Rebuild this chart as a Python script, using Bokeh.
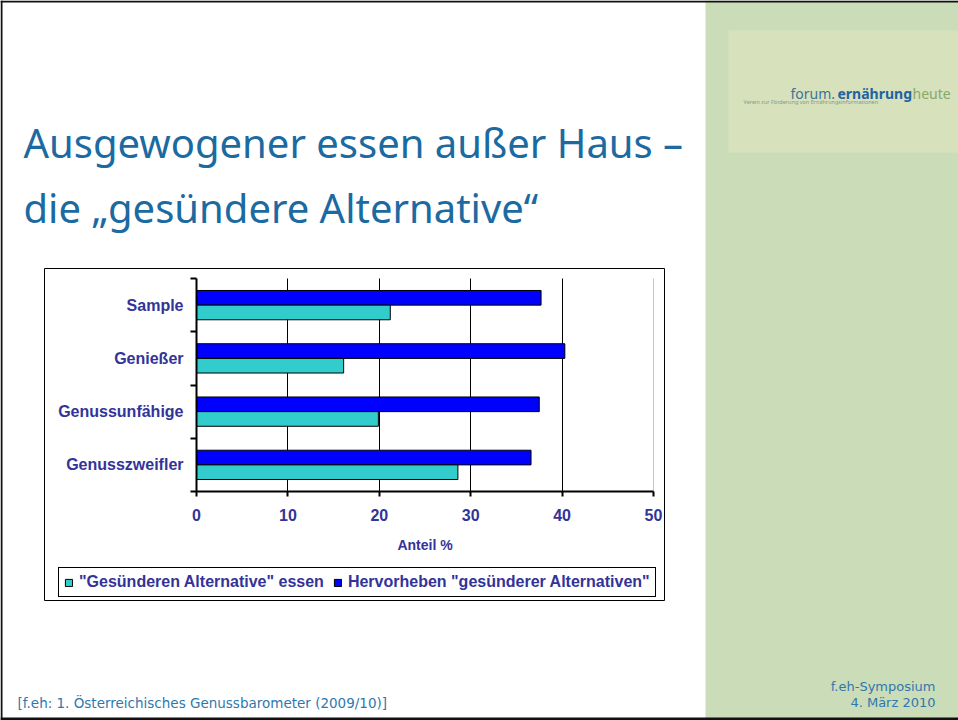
from bokeh.plotting import figure
from bokeh.models import (Range1d, FixedTicker, Legend, LegendItem, Label,
                          BoxAnnotation, ColumnDataSource, LinearAxis, Grid)
from bokeh.embed import file_html
from bokeh.resources import INLINE
import numpy as np

# ---------------- data ----------------
categories = ["Sample", "Genießer", "Genussunfähige", "Genusszweifler"]
eat_alternative = [21.2, 16.1, 19.9, 28.6]        # "Gesünderen Alternative" essen
highlight_alternative = [37.7, 40.3, 37.5, 36.6]  # Hervorheben "gesünderer Alternativen"
x_ticks = [0, 10, 20, 30, 40, 50]
series_labels = ['"Gesünderen Alternative" essen',
                 'Hervorheben "gesünderer Alternativen"']
x_axis_title = "Anteil %"
title_lines = ["Ausgewogener essen außer Haus –", "die „gesündere Alternative“"]
source_note = "[f.eh: 1. Österreichisches Genussbarometer (2009/10)]"
event_lines = ["f.eh-Symposium", "4. März 2010"]
logo_parts = ["forum.", "ernährung", "heute"]
logo_sub = "Verein zur Förderung von Ernährungsinformationen"

# ---------------- styles / layout (pixels) ----------------
NAVY = "#333399"
TITLE_C = "#1b6aa1"
FOOT_C = "#2f78ad"
GREEN = "#cbdcb9"
LOGO_BG = "#d7e1bc"
BOLD_FONT = "Liberation Sans"

W, H = 958, 720
CH_L, CH_R, CH_T, CH_B = 196, 653, 278, 491   # chart plot area on the canvas
PANEL_X = 705                                  # start of the green panel


def sy(cy):  # canvas y (from top) -> screen units (from bottom)
    return H - cy


def screen_box(l, r, t, b, **kw):
    return BoxAnnotation(left=l, right=r, top=sy(t), bottom=sy(b),
                         left_units="screen", right_units="screen",
                         top_units="screen", bottom_units="screen", **kw)


n = len(categories)
x_min, x_max = x_ticks[0], x_ticks[-1]
kx = (CH_R - CH_L) / (x_max - x_min)
ky = (CH_B - CH_T) / n
x_range = Range1d(x_min - CH_L / kx, x_max + (W - CH_R) / kx)
y_range = Range1d(0 - (H - CH_B) / ky, n + CH_T / ky)

centers = [float(v) for v in (n - 0.5 - np.arange(n))]
bar_h = 0.275
src = ColumnDataSource(dict(
    cat=categories,
    y_top=[c + bar_h / 2 for c in centers],
    y_bot=[c - bar_h / 2 for c in centers],
    eat=eat_alternative,
    hl=highlight_alternative,
))

p = figure(width=W, height=H, x_range=x_range, y_range=y_range,
           x_axis_type=None, y_axis_type=None, min_border=0, title=None,
           output_backend="svg", toolbar_location=None,
           background_fill_color="white", border_fill_color="white")
p.outline_line_color = None

# green side panel and logo area
p.add_layout(screen_box(PANEL_X, W, 0, H, fill_color=GREEN, fill_alpha=1,
                        line_color=None, level="underlay"))
p.add_layout(screen_box(728, W, 30, 152, fill_color=LOGO_BG, fill_alpha=1,
                        line_color=None, level="underlay"))
# slide border
for l, r, t, b in [(0, W, 0, 2), (0, 2, 0, H), (0, W, 717, H)]:
    p.add_layout(screen_box(l, r, t, b, fill_color="#111111", fill_alpha=1,
                            line_color=None))

# chart box
p.add_layout(screen_box(44, 664, 268, 600, fill_alpha=0, line_color="black",
                        line_alpha=1, line_width=1, level="underlay"))

# grid lines
p.add_layout(Grid(dimension=0, ticker=FixedTicker(ticks=x_ticks[1:-1]),
                  cross_bounds=(0, n), grid_line_color="black", grid_line_width=1))
p.add_layout(Grid(dimension=0, ticker=FixedTicker(ticks=[x_ticks[-1]]),
                  cross_bounds=(0, n), grid_line_color="#c8c8c8", grid_line_width=1))

r_hl = p.hbar(y="y_top", left=0, right="hl", height=bar_h, source=src,
              fill_color="#0000ff", line_color="black", line_width=1)
r_eat = p.hbar(y="y_bot", left=0, right="eat", height=bar_h, source=src,
               fill_color="#33cccc", line_color="black", line_width=1)

# x axis
xa = LinearAxis(fixed_location=0, bounds=(x_min, x_max),
                ticker=FixedTicker(ticks=x_ticks))
xa.axis_line_width = 2
xa.axis_line_color = "black"
xa.major_tick_out = 5
xa.major_tick_in = 0
xa.major_tick_line_color = "black"
xa.major_tick_line_width = 2
xa.minor_tick_line_color = None
xa.major_label_standoff = 12
xa.major_label_text_font = BOLD_FONT
xa.major_label_text_font_style = "bold"
xa.major_label_text_font_size = "16px"
xa.major_label_text_color = NAVY
xa.axis_label = x_axis_title
xa.axis_label_text_font = BOLD_FONT
xa.axis_label_text_font_style = "bold"
xa.axis_label_text_font_size = "14px"
xa.axis_label_text_color = NAVY
xa.axis_label_standoff = 13
p.add_layout(xa, "below")

# y axis (labels at category centres, tick marks at category borders)
ya = LinearAxis(fixed_location=0, bounds=(0, n),
                ticker=FixedTicker(ticks=centers, minor_ticks=list(range(n + 1))))
ya.major_label_overrides = {c: cat for c, cat in zip(centers, categories)}
ya.axis_line_width = 2
ya.axis_line_color = "black"
ya.major_tick_line_color = None
ya.major_tick_out = 0
ya.major_tick_in = 0
ya.minor_tick_out = 6
ya.minor_tick_in = 0
ya.minor_tick_line_color = "black"
ya.minor_tick_line_width = 2
ya.major_label_standoff = 7
ya.major_label_text_font = BOLD_FONT
ya.major_label_text_font_style = "bold"
ya.major_label_text_font_size = "16px"
ya.major_label_text_color = NAVY
p.add_layout(ya, "left")

legend = Legend(items=[LegendItem(label=series_labels[0], renderers=[r_eat]),
                       LegendItem(label=series_labels[1], renderers=[r_hl])],
                orientation="horizontal", location=(58, sy(597)),
                glyph_width=9, glyph_height=9, label_standoff=6, spacing=9,
                padding=5, margin=0, label_height=15,
                label_text_font=BOLD_FONT, label_text_font_style="bold",
                label_text_font_size="16px", label_text_color=NAVY,
                border_line_color="black", border_line_alpha=1,
                border_line_width=1,
                background_fill_color="white", background_fill_alpha=1)
p.add_layout(legend)

# slide texts
for txt, cy in zip(title_lines, [142, 207]):
    p.add_layout(Label(x=23, y=sy(cy), x_units="screen", y_units="screen",
                       text=txt, text_font="Noto Sans", text_font_size="40px",
                       text_color=TITLE_C, text_baseline="alphabetic"))
p.add_layout(Label(x=17, y=sy(702), x_units="screen", y_units="screen",
                   text=source_note, text_font="DejaVu Sans", text_font_size="13.5px",
                   text_color=FOOT_C, text_baseline="alphabetic"))
for txt, cy in zip(event_lines, [686, 702]):
    p.add_layout(Label(x=935, y=sy(cy), x_units="screen", y_units="screen",
                       text=txt, text_font="DejaVu Sans", text_font_size="13px",
                       text_color=FOOT_C, text_align="right",
                       text_baseline="alphabetic"))

# logo
logo_specs = [(790, "normal", "#3f7399"), (837, "bold", "#1f63a3"), (912, "normal", "#86a86a")]
for part, (lx, style, col) in zip(logo_parts, logo_specs):
    p.add_layout(Label(x=lx, y=sy(93), x_units="screen", y_units="screen",
                       text=part, text_font="Noto Sans", text_font_size="14px",
                       text_font_style=style, text_color=col,
                       text_baseline="alphabetic"))
p.add_layout(Label(x=743, y=sy(101), x_units="screen", y_units="screen",
                   text=logo_sub, text_font="Noto Sans", text_font_size="5.5px",
                   text_color="#86998a", text_baseline="alphabetic"))

open("out.html", "w").write(file_html(p, INLINE))
